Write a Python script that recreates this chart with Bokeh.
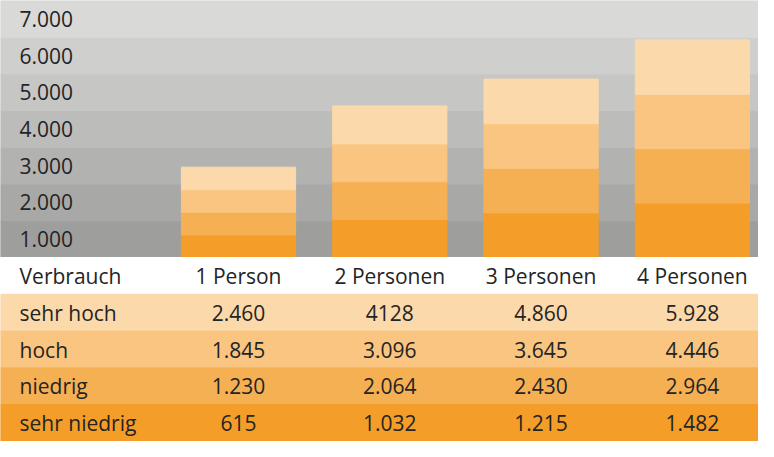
from bokeh.plotting import figure
from bokeh.layouts import column
from bokeh.models import ColumnDataSource, Range1d
from bokeh.core.properties import value
from bokeh.embed import file_html
from bokeh.resources import INLINE

# ---- data ----
households = ["1 Person", "2 Personen", "3 Personen", "4 Personen"]
levels = ["sehr hoch", "hoch", "niedrig", "sehr niedrig"]
sehr_hoch = [2460, 4128, 4860, 5928]
hoch = [1845, 3096, 3645, 4446]
niedrig = [1230, 2064, 2430, 2964]
sehr_niedrig = [615, 1032, 1215, 1482]
sehr_hoch_txt = ["2.460", "4128", "4.860", "5.928"]
hoch_txt = ["1.845", "3.096", "3.645", "4.446"]
niedrig_txt = ["1.230", "2.064", "2.430", "2.964"]
sehr_niedrig_txt = ["615", "1.032", "1.215", "1.482"]
band_tops = [1000, 2000, 3000, 4000, 5000, 6000, 7000]
band_labels = ["1.000", "2.000", "3.000", "4.000", "5.000", "6.000", "7.000"]

# ---- styles ----
FONT = "Open Sans"
FSIZE = "21px"
TXT = "#242424"
level_colors = {"sehr hoch": "#FCD9AB", "hoch": "#FAC580", "niedrig": "#F6B054", "sehr niedrig": "#F49D28"}
band_colors = ["#9E9E9D", "#A8A8A7", "#B2B2B1", "#BCBCBB", "#C6C6C5", "#CFCFCE", "#D9D9D8"]

W = 758
xr_start, xr_end = -0.573, 4.437
BAR_W = 0.755
label_x = -0.447

# ---- chart ----
p = figure(width=W, height=257, output_backend="svg", toolbar_location=None,
           x_range=Range1d(xr_start, xr_end), y_range=Range1d(0, band_tops[-1]),
           min_border=0, outline_line_color=None)
p.axis.visible = False
p.grid.visible = False
p.background_fill_color = "white"
p.border_fill_color = "white"

band_src = ColumnDataSource(dict(
    bottom=[t - 1000 for t in band_tops], top=band_tops,
    left=[xr_start] * len(band_tops), right=[xr_end] * len(band_tops),
    color=band_colors))
p.quad(left="left", right="right", bottom="bottom", top="top", fill_color="color",
       line_color="color", line_width=1, source=band_src)

xs = list(range(1, len(households) + 1))
stack_order = [("sehr niedrig", sehr_niedrig), ("niedrig", niedrig), ("hoch", hoch), ("sehr hoch", sehr_hoch)]
prev = [0] * len(households)
for name, vals in stack_order:
    src = ColumnDataSource(dict(left=[x - BAR_W / 2 for x in xs], right=[x + BAR_W / 2 for x in xs],
                                bottom=prev, top=vals))
    p.quad(left="left", right="right", bottom="bottom", top="top", source=src,
           fill_color=level_colors[name], line_color=level_colors[name], line_width=1)
    prev = vals

lab_src = ColumnDataSource(dict(x=[label_x] * len(band_tops), y=[t - 500 for t in band_tops], text=band_labels))
p.text(x="x", y="y", text="text", source=lab_src, text_font=value(FONT), text_font_size=FSIZE,
       text_color=TXT, text_align="left", text_baseline="middle")

# ---- table ----
t = figure(width=W, height=184, output_backend="svg", toolbar_location=None,
           x_range=Range1d(xr_start, xr_end), y_range=Range1d(4.5, -0.5),
           min_border=0, outline_line_color=None)
t.axis.visible = False
t.grid.visible = False
t.background_fill_color = "white"
t.border_fill_color = "white"

rows = [("sehr hoch", sehr_hoch_txt), ("hoch", hoch_txt), ("niedrig", niedrig_txt), ("sehr niedrig", sehr_niedrig_txt)]
row_src = ColumnDataSource(dict(
    left=[xr_start] * 4, right=[xr_end] * 4,
    top=[i + 0.5 for i in range(1, 5)], bottom=[i - 0.5 for i in range(1, 5)],
    color=[level_colors[n] for n, _ in rows]))
t.quad(left="left", right="right", top="top", bottom="bottom", fill_color="color",
       line_color="color", line_width=1, source=row_src)

left_src = ColumnDataSource(dict(x=[label_x] * 5, y=list(range(5)), text=["Verbrauch"] + [n for n, _ in rows]))
t.text(x="x", y="y", text="text", source=left_src, text_font=value(FONT), text_font_size=FSIZE,
       text_color=TXT, text_align="left", text_baseline="middle")

cx, cy, ct = [], [], []
for j, h in enumerate(households):
    cx.append(xs[j]); cy.append(0); ct.append(h)
for i, (n, txts) in enumerate(rows, start=1):
    for j, s in enumerate(txts):
        cx.append(xs[j]); cy.append(i); ct.append(s)
cell_src = ColumnDataSource(dict(x=cx, y=cy, text=ct))
t.text(x="x", y="y", text="text", source=cell_src, text_font=value(FONT), text_font_size=FSIZE,
       text_color=TXT, text_align="center", text_baseline="middle")

layout = column(p, t, spacing=0)
open("out.html", "w").write(file_html(layout, INLINE))
